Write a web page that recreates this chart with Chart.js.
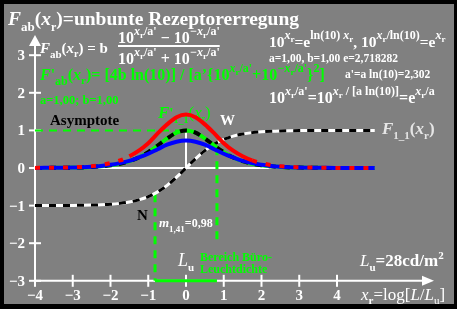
<!DOCTYPE html>
<html><head><meta charset="utf-8">
<script src="https://cdn.jsdelivr.net/npm/chart.js@4/dist/chart.umd.min.js"></script>
<style>html,body{margin:0;padding:0;background:#000;}canvas{display:block;}</style>
</head><body>
<canvas id="c" width="457" height="309"></canvas>
<script>
const xr = [-4,-3.75,-3.5,-3.25,-3,-2.75,-2.5,-2.25,-2,-1.75,-1.5,-1.25,-1,-0.75,-0.5,-0.25,0,0.25,0.5,0.75,1,1.25,1.5,1.75,2,2.25,2.5,2.75,3,3.25,3.5,3.75,4,4.25,4.5,4.75,5];
const F11 = [-0.999,-0.999,-0.998,-0.997,-0.995,-0.992,-0.987,-0.978,-0.964,-0.941,-0.905,-0.848,-0.762,-0.635,-0.462,-0.245,0,0.245,0.462,0.635,0.762,0.848,0.905,0.941,0.964,0.978,0.987,0.992,0.995,0.997,0.998,0.999,0.999,1.0,1.0,1.0,1.0];
const dF11 = [0.001,0.002,0.004,0.006,0.010,0.016,0.027,0.044,0.071,0.114,0.181,0.280,0.420,0.597,0.786,0.940,1.0,0.940,0.786,0.597,0.420,0.280,0.181,0.114,0.071,0.044,0.027,0.016,0.010,0.006,0.004,0.002,0.001,0.001,0.0005,0.0003,0.0002];
const redF = [0.003,0.005,0.008,0.012,0.02,0.03,0.05,0.08,0.13,0.20,0.31,0.46,0.66,0.92,1.16,1.35,1.42,1.35,1.16,0.92,0.66,0.46,0.31,0.20,0.13,0.08,0.05,0.03,0.02,0.012,0.008,0.005,0.003,0.002,0.001,0.001,0.001];
const blueF = [0.003,0.004,0.006,0.009,0.014,0.022,0.035,0.055,0.085,0.13,0.19,0.28,0.38,0.50,0.62,0.70,0.73,0.70,0.62,0.50,0.38,0.28,0.19,0.13,0.085,0.055,0.035,0.022,0.014,0.009,0.006,0.004,0.003,0.002,0.002,0.001,0.001];
const xTicks = [-4,-3,-2,-1,0,1,2,3,4];
const xTickLabels = ['\u22124','\u22123','\u22122','\u22121','0','1','2','3','4'];
const yTicks = [-3,-2,-1,0,1,2,3];
const yTickLabels = ['\u22123','\u22122','\u22121','0','1','2','3'];
const rangeLo = -0.82, rangeHi = 0.82;

const pts = arr => xr.map((x,i)=>({x:x,y:arr[i]}));
const FONT = '"Liberation Serif","Times New Roman",serif';

function rich(ctx, x, y, segs, base){
  for(const s of segs){
    const sz = s.s || base.s;
    ctx.font = (s.i?'italic ':'') + (s.n?'':'bold ') + sz + 'px ' + FONT;
    ctx.fillStyle = s.c || base.c;
    ctx.fillText(s.t, x, y + (s.d||0));
    x += ctx.measureText(s.t).width;
  }
  return x;
}
const supX = (pre, post) => [
  {t:pre+'x', i:1, s:12, d:-8},
  {t:'r', s:9, d:-5},
  {t:post, s:12, d:-8}
];

const deco = {
  id:'deco',
  beforeDraw(chart){
    const ctx = chart.ctx;
    ctx.save();
    ctx.fillStyle='#000'; ctx.fillRect(0,0,457,309);
    ctx.fillStyle='#808080'; ctx.fillRect(4,4,450,300);
    ctx.restore();
  },
  beforeDatasetsDraw(chart){
    const ctx = chart.ctx, X = chart.scales.x, Y = chart.scales.y;
    const px = v=>X.getPixelForValue(v), py = v=>Y.getPixelForValue(v);
    ctx.save();
    ctx.strokeStyle='#fff'; ctx.fillStyle='#fff'; ctx.lineWidth=2;
    ctx.beginPath(); ctx.moveTo(px(-4), py(-3)); ctx.lineTo(px(-4), 44); ctx.stroke();
    ctx.beginPath(); ctx.moveTo(px(-4),35); ctx.lineTo(px(-4)-6,46); ctx.lineTo(px(-4)+6,46); ctx.closePath(); ctx.fill();
    ctx.beginPath(); ctx.moveTo(px(-4), py(-3)); ctx.lineTo(424, py(-3)); ctx.stroke();
    ctx.beginPath(); ctx.moveTo(434,py(-3)); ctx.lineTo(422,py(-3)-5); ctx.lineTo(422,py(-3)+5); ctx.closePath(); ctx.fill();
    xTicks.forEach(v=>{ctx.beginPath(); ctx.moveTo(px(v), py(-3)-6); ctx.lineTo(px(v), py(-3)+6); ctx.stroke();});
    yTicks.forEach(v=>{ctx.beginPath(); ctx.moveTo(px(-4)-6, py(v)); ctx.lineTo(px(-4)+6, py(v)); ctx.stroke();});
    ctx.beginPath(); ctx.moveTo(px(-4), py(0)); ctx.lineTo(px(5), py(0)); ctx.stroke();
    ctx.beginPath(); ctx.moveTo(px(0), py(0)); ctx.lineTo(px(0), py(1)); ctx.stroke();
    ctx.strokeStyle='#00ff00'; ctx.lineWidth=2; ctx.setLineDash([8,6]);
    ctx.beginPath(); ctx.moveTo(px(-4), py(1)); ctx.lineTo(px(0), py(1)); ctx.stroke();
    ctx.lineWidth=3;
    ctx.beginPath(); ctx.moveTo(px(rangeLo), py(-0.7)); ctx.lineTo(px(rangeLo), py(-3)); ctx.stroke();
    ctx.beginPath(); ctx.moveTo(px(rangeHi), py(0.55)); ctx.lineTo(px(rangeHi), py(-2)); ctx.stroke();
    ctx.setLineDash([]); ctx.lineWidth=3;
    ctx.beginPath(); ctx.moveTo(px(rangeLo), py(-3)); ctx.lineTo(px(rangeHi), py(-3)); ctx.stroke();
    rich(ctx, 158, 118, [{t:'F',i:1},{t:"'",s:15},{t:'1_1',s:10,d:5},{t:'(',n:1},{t:'x',i:1,n:1},{t:'r',s:10,d:4,n:1},{t:')',n:1}], {s:17,c:'#00ff00'});
    ctx.restore();
  },
  afterDraw(chart){
    const ctx = chart.ctx, X = chart.scales.x, Y = chart.scales.y;
    const px = v=>X.getPixelForValue(v), py = v=>Y.getPixelForValue(v);
    ctx.save();
    ctx.textBaseline='alphabetic';
    const W='#ffffff', G='#00ff00';
    ctx.font='bold 15px '+FONT; ctx.fillStyle=W;
    ctx.textAlign='right';
    yTicks.forEach((v,i)=>ctx.fillText(yTickLabels[i], 25, py(v)+5));
    ctx.textAlign='center';
    xTicks.forEach((v,i)=>ctx.fillText(xTickLabels[i], px(v), 300));
    ctx.textAlign='left';
    rich(ctx, 8, 25, [{t:'F',i:1},{t:'ab',s:13,d:6},{t:'('},{t:'x',i:1},{t:'r',s:12,d:6},{t:')=unbunte Rezeptorerregung'}], {s:19.5,c:W});
    rich(ctx, 40, 53, [{t:'F',i:1},{t:'ab',s:11,d:5},{t:'('},{t:'x',i:1},{t:'r',s:10,d:4},{t:') = b'}], {s:15,c:W});
    let e = rich(ctx, 118, 43, [{t:'10'}, ...supX('',"/a'"), {t:' \u2212 10'}, ...supX('\u2212',"/a'")], {s:16,c:W});
    rich(ctx, 118, 64, [{t:'10'}, ...supX('',"/a'"), {t:' + 10'}, ...supX('\u2212',"/a'")], {s:16,c:W});
    ctx.fillStyle=W; ctx.fillRect(118, 45, e-118, 2);
    rich(ctx, 40, 80, [{t:'F',i:1},{t:"'",s:16},{t:'ab',s:12,d:5},{t:'('},{t:'x',i:1},{t:'r',s:11,d:4},{t:')= [4b ln(10)] / [a\u2019{10'}, ...supX('',"/a'"), {t:'+10'}, ...supX('\u2212',"/a'"), {t:'}'}, {t:'2',s:12,d:-8}, {t:']'}], {s:16,c:G});
    rich(ctx, 40, 104, [{t:'a=1,00; b=1,00'}], {s:12.5,c:G});
    rich(ctx, 269, 47, [{t:'10'}, ...supX('',''), {t:'=e'}, {t:'ln(10) ',s:12,d:-8}, {t:'x',i:1,s:12,d:-8}, {t:'r',s:9,d:-5}, {t:', 10'}, ...supX('','/ln(10)'), {t:'=e'}, ...supX('','')], {s:15.5,c:W});
    rich(ctx, 269, 62, [{t:'a=1,00, b=1,00 e=2,718282'}], {s:11.5,c:W});
    rich(ctx, 345, 78, [{t:"a'=a ln(10)=2,302"}], {s:11.5,c:W});
    rich(ctx, 269, 103, [{t:'10'}, ...supX('',"/a'"), {t:'=10'}, ...supX('',' / [a ln(10)]'), {t:'=e'}, ...supX('','/a')], {s:16,c:W});
    rich(ctx, 50, 125, [{t:'Asymptote'}], {s:15,c:'#000'});
    rich(ctx, 220, 125, [{t:'W'}], {s:15,c:W});
    rich(ctx, 382, 134, [{t:'F',i:1},{t:'1_1',s:11,d:5},{t:'('},{t:'x',i:1},{t:'r',s:11,d:5},{t:')'}], {s:17,c:'#e6e6e6'});
    rich(ctx, 137, 220, [{t:'N'}], {s:15,c:'#000'});
    rich(ctx, 159, 227, [{t:'m',i:1,s:13},{t:'1,41',s:9,d:5},{t:'=0,98'}], {s:12,c:W});
    rich(ctx, 178, 266, [{t:'L',i:1,n:1},{t:'u',s:11,d:5}], {s:18,c:W});
    rich(ctx, 200, 261, [{t:'Bereich B\u00fcro-'}], {s:12,c:G});
    rich(ctx, 200, 273, [{t:'Leuchtdichte'}], {s:12,c:G});
    rich(ctx, 360, 266, [{t:'L',i:1,n:1},{t:'u',s:11,d:5},{t:'=28cd/m'},{t:'2',s:11,d:-7}], {s:17,c:W});
    rich(ctx, 361, 300, [{t:'x',i:1,n:1},{t:'r',s:11,d:4},{t:'=log[',n:1},{t:'L',i:1,n:1},{t:'/',n:1},{t:'L',i:1,n:1},{t:'u',s:11,d:4,n:1},{t:']',n:1}], {s:17,c:W});
    ctx.restore();
  }
};

new Chart(document.getElementById('c'), {
  type:'line',
  data:{ datasets:[
    {data:pts(redF), borderColor:'#ff0000', borderWidth:4, pointRadius:0, cubicInterpolationMode:'monotone',
      segment:{borderDash: c => Math.abs(c.p0.parsed.x) >= 1.75 ? [5,9] : undefined}},
    {data:pts(blueF), borderColor:'#0000ff', borderWidth:4, pointRadius:0, cubicInterpolationMode:'monotone'},
    {data:pts(dF11), borderColor:'#000000', borderWidth:4, borderDash:[7,7], pointRadius:0, cubicInterpolationMode:'monotone'},
    {data:pts(dF11), borderColor:'#00ff00', borderWidth:4, pointRadius:0, cubicInterpolationMode:'monotone'},
    {data:pts(F11), borderColor:'#000000', borderWidth:3, borderDash:[7,7], pointRadius:0, cubicInterpolationMode:'monotone'},
    {data:pts(F11), borderColor:'#ffffff', borderWidth:3, pointRadius:0, cubicInterpolationMode:'monotone'}
  ]},
  options:{
    responsive:false, animation:false, devicePixelRatio:1,
    layout:{padding:0},
    plugins:{legend:{display:false}, tooltip:{enabled:false}},
    scales:{
      x:{type:'linear', min:-4.927, max:7.179, display:false},
      y:{type:'linear', min:-3.75, max:4.468, display:false}
    },
    elements:{line:{fill:false}}
  },
  plugins:[deco]
});
</script>
</body></html>
